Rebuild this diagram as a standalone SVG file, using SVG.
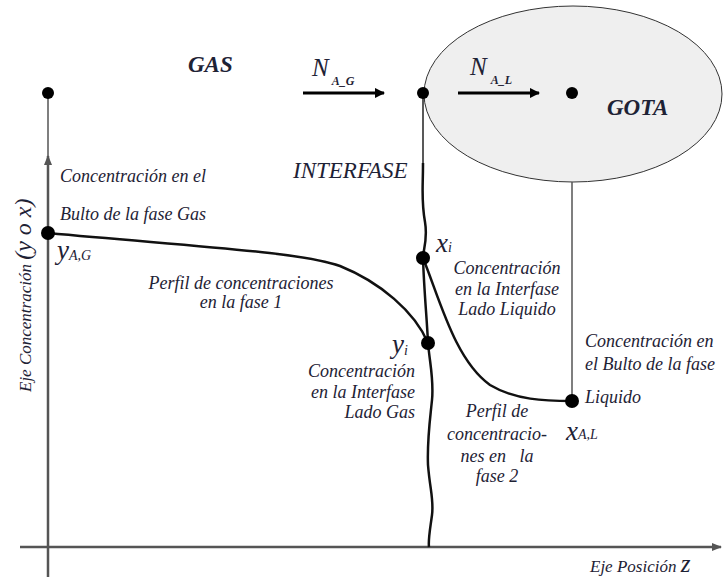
<svg xmlns="http://www.w3.org/2000/svg" width="723" height="579" viewBox="0 0 723 579">
<defs>
<marker id="axhead" viewBox="0 0 10 10" refX="9" refY="5" markerWidth="4" markerHeight="4" orient="auto" markerUnits="strokeWidth">
<path d="M0,1 L10,5 L0,9 z" fill="#555"/>
</marker>
<marker id="fluxhead" viewBox="0 0 10 10" refX="9" refY="5" markerWidth="3.5" markerHeight="3.5" orient="auto" markerUnits="strokeWidth">
<path d="M0,0 L10,5 L0,10 z" fill="#000"/>
</marker>
</defs>

<g id="drop">
<ellipse cx="573" cy="94" rx="149" ry="88" fill="#efefef" stroke="#333" stroke-width="1"/>
</g>

<g id="connectors" fill="none">
<line stroke="#555" stroke-width="2.5" x1="48" y1="577" x2="48" y2="156" marker-end="url(#axhead)"/>
<line stroke="#555" stroke-width="1.5" x1="48" y1="160" x2="48" y2="93"/>
<line stroke="#555" stroke-width="2.5" x1="20" y1="547" x2="721" y2="547" marker-end="url(#axhead)"/>
<line stroke="#000" stroke-width="3" x1="303" y1="93" x2="384" y2="93" marker-end="url(#fluxhead)"/>
<line stroke="#000" stroke-width="3" x1="458" y1="93" x2="539" y2="93" marker-end="url(#fluxhead)"/>
<line stroke="#555" stroke-width="1.5" x1="572" y1="182" x2="572" y2="401"/>
<line stroke="#222" stroke-width="1.5" x1="423" y1="93" x2="423" y2="165"/>
<path stroke="#111" stroke-width="2.5" d="M423,163 C423,190 421,200 425,222 C428,240 423,250 423,258 C424,290 427,320 428,343 C430,365 434,380 432,400 C430,420 427,440 428,465 C430,490 434,500 432,515 C430,530 428,540 429,547"/>
<path stroke="#111" stroke-width="2.5" d="M48,233 C200,247 300,252 340,266 C380,282 415,312 428,343"/>
<path stroke="#111" stroke-width="2.5" d="M423,258 C440,300 455,360 490,385 C515,400 545,401 572,401"/>
</g>

<g id="dots" fill="#000">
<circle cx="48" cy="93" r="6"/>
<circle cx="423" cy="93" r="6"/>
<circle cx="572" cy="93" r="6"/>
<circle cx="48" cy="233" r="7"/>
<circle cx="423" cy="258" r="7"/>
<circle cx="428" cy="343" r="7"/>
<circle cx="572" cy="401" r="7"/>
</g>

<g id="labels" fill="#1e2235">
<text x="188" y="72" font-family="Liberation Serif, serif" font-style="italic" font-weight="bold" font-size="23">GAS</text>
<text x="607" y="115" font-family="Liberation Serif, serif" font-style="italic" font-weight="bold" font-size="23">GOTA</text>
<text x="293" y="178" font-family="Liberation Serif, serif" font-style="italic" font-size="23">INTERFASE</text>
<text x="312" y="76" font-family="Liberation Serif, serif" font-style="italic" font-size="25">N<tspan font-size="12" font-weight="bold" dy="9" dx="3">A_G</tspan></text>
<text x="470" y="75" font-family="Liberation Serif, serif" font-style="italic" font-size="25">N<tspan font-size="12" font-weight="bold" dy="9" dx="4">A_L</tspan></text>

<text x="60" y="182" font-family="Liberation Serif, serif" font-style="italic" font-size="18">Concentración en el</text>
<text x="60" y="220" font-family="Liberation Serif, serif" font-style="italic" font-size="18">Bulto de la fase Gas</text>
<text x="57" y="259" font-family="Liberation Serif, serif" font-style="italic" font-size="27">y<tspan font-size="14" dy="1">A,G</tspan></text>

<text x="241" y="289" text-anchor="middle" font-family="Liberation Serif, serif" font-style="italic" font-size="18">Perfil de concentraciones</text>
<text x="241" y="308" text-anchor="middle" font-family="Liberation Serif, serif" font-style="italic" font-size="18">en la fase 1</text>

<text x="436" y="252" font-family="Liberation Serif, serif" font-style="italic" font-size="27">x<tspan font-size="14">i</tspan></text>
<text x="507" y="274" text-anchor="middle" font-family="Liberation Serif, serif" font-style="italic" font-size="18">Concentración</text>
<text x="507" y="295" text-anchor="middle" font-family="Liberation Serif, serif" font-style="italic" font-size="18">en la Interfase</text>
<text x="507" y="315" text-anchor="middle" font-family="Liberation Serif, serif" font-style="italic" font-size="18">Lado Liquido</text>

<text x="392" y="353" font-family="Liberation Serif, serif" font-style="italic" font-size="27">y<tspan font-size="14" dy="2">i</tspan></text>
<text x="415" y="377" text-anchor="end" font-family="Liberation Serif, serif" font-style="italic" font-size="18">Concentración</text>
<text x="415" y="398" text-anchor="end" font-family="Liberation Serif, serif" font-style="italic" font-size="18">en la Interfase</text>
<text x="415" y="418" text-anchor="end" font-family="Liberation Serif, serif" font-style="italic" font-size="18">Lado Gas</text>

<text x="497" y="417" text-anchor="middle" font-family="Liberation Serif, serif" font-style="italic" font-size="18">Perfil de</text>
<text x="497" y="440" text-anchor="middle" font-family="Liberation Serif, serif" font-style="italic" font-size="18">concentracio-</text>
<text x="497" y="462" text-anchor="middle" font-family="Liberation Serif, serif" font-style="italic" font-size="18">nes en &#160; la</text>
<text x="497" y="482" text-anchor="middle" font-family="Liberation Serif, serif" font-style="italic" font-size="18">fase 2</text>

<text x="585" y="347" font-family="Liberation Serif, serif" font-style="italic" font-size="18">Concentración en</text>
<text x="585" y="370" font-family="Liberation Serif, serif" font-style="italic" font-size="18">el Bulto de la fase</text>
<text x="585" y="403" font-family="Liberation Serif, serif" font-style="italic" font-size="18">Liquido</text>
<text x="566" y="440" font-family="Liberation Serif, serif" font-style="italic" font-size="27">x<tspan font-size="14" dy="-1">A,L</tspan></text>

<text x="590" y="572" font-family="Liberation Serif, serif" font-style="italic" font-size="17">Eje Posición <tspan font-size="25">z</tspan></text>
<text transform="translate(31,392) rotate(-90)" font-family="Liberation Serif, serif" font-style="italic" font-size="17">Eje Concentración <tspan font-size="24">(y o x)</tspan></text>
</g>
</svg>
